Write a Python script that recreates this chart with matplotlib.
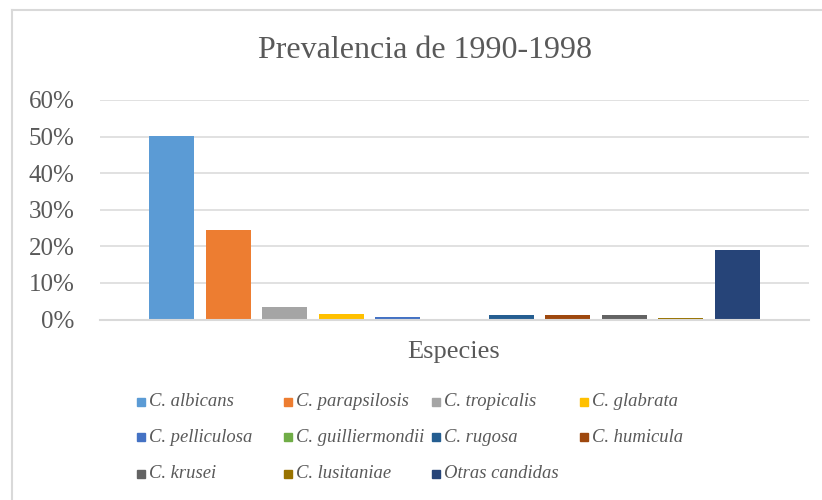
import numpy as np
import matplotlib
matplotlib.use("Agg")
import matplotlib.pyplot as plt
from matplotlib.patches import Rectangle
from matplotlib.lines import Line2D
from matplotlib.ticker import PercentFormatter

especies = [
    "C. albicans", "C. parapsilosis", "C. tropicalis", "C. glabrata",
    "C. pelliculosa", "C. guilliermondii", "C. rugosa", "C. humicula",
    "C. krusei", "C. lusitaniae", "Otras candidas",
]
prevalencia = [50.2, 24.5, 3.5, 1.6, 0.8, 0.0, 1.1, 1.1, 1.1, 0.5, 19.0]
colores = [
    "#5B9BD5", "#ED7D31", "#A5A5A5", "#FFC000", "#4472C4", "#70AD47",
    "#255E91", "#9E480E", "#636363", "#997300", "#264478",
]
y_ticks = [0, 10, 20, 30, 40, 50, 60]

W, H = 822, 500
GRIS = "#595959"
LINEA = "#D9D9D9"

plt.rcParams["font.family"] = ["Liberation Serif", "DejaVu Serif"]

fig = plt.figure(figsize=(W / 100, H / 100), dpi=100)
fig.patch.set_facecolor("white")

# area de trazado en pixeles
x0, x1, y_top, y_bot = 100, 809, 100, 319.5
ax = fig.add_axes([x0 / W, 1 - y_bot / H, (x1 - x0) / W, (y_bot - y_top) / H])

pos = np.arange(len(especies))
ax.bar(pos, prevalencia, width=0.795, color=colores, zorder=3)

ax.set_xlim(-1.263, 11.263)
ax.set_ylim(0, 60)
ax.set_yticks(y_ticks)
ax.yaxis.set_major_formatter(PercentFormatter(decimals=0))
ax.set_xticks([])
ax.tick_params(axis="y", length=0, pad=18.5, labelsize=18, labelcolor=GRIS)
ax.grid(axis="y", color=LINEA, lw=1.1, zorder=0)
for s in ["top", "right", "left"]:
    ax.spines[s].set_visible(False)
ax.spines["bottom"].set_color(LINEA)
ax.spines["bottom"].set_linewidth(1.5)
ax.spines["bottom"].set_zorder(4)

# titulo y eje
fig.text(425 / W, 1 - 50 / H, "Prevalencia de 1990-1998", fontsize=23,
         color=GRIS, ha="center", va="center")
fig.text(454 / W, 1 - 352 / H, "Especies", fontsize=19,
         color=GRIS, ha="center", va="center")

# leyenda (4 columnas, por filas como en Excel)
col_x = [137, 284, 432, 580]
fila_y = [402, 437, 474]
for i, (nombre, c) in enumerate(zip(especies, colores)):
    fila, col = divmod(i, 4)
    mx, my = col_x[col], fila_y[fila]
    fig.patches.append(Rectangle(((mx) / W, 1 - (my + 4) / H), 8 / W, 8 / H,
                                 transform=fig.transFigure, color=c))
    fig.text((mx + 12) / W, 1 - my / H, nombre, fontsize=13.4, style="italic",
             color=GRIS, ha="left", va="center")

# borde del grafico (solo se ve arriba e izquierda)
fig.lines.append(Line2D([12 / W, 12 / W], [0, 1 - 10 / H], transform=fig.transFigure,
                        color=LINEA, lw=1.5))
fig.lines.append(Line2D([12 / W, 1], [1 - 10 / H, 1 - 10 / H], transform=fig.transFigure,
                        color=LINEA, lw=1.5))

fig.savefig("out.png", dpi=100, facecolor="white")
